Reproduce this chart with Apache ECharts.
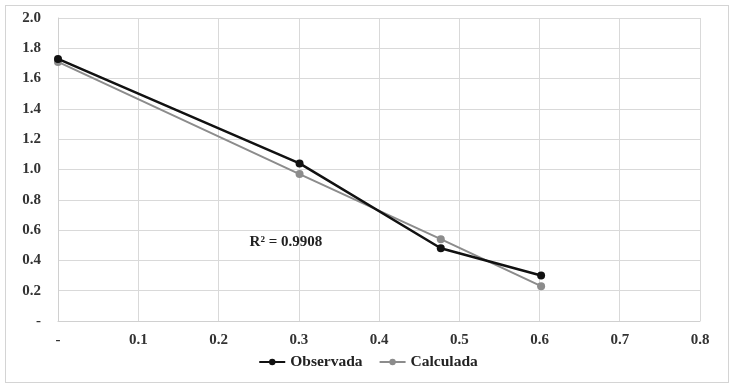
<!DOCTYPE html>
<html>
<head>
<meta charset="utf-8">
<script src="https://cdn.jsdelivr.net/npm/echarts@6/dist/echarts.min.js"></script>
<style>
html, body { margin: 0; padding: 0; background: #fff; }
#main { width: 736px; height: 387px; }
.frame { position: absolute; left: 5px; top: 5px; width: 724px; height: 378px; border: 1px solid #d4d4d4; box-sizing: border-box; pointer-events: none; }
</style>
</head>
<body>
<div id="main"></div>
<div class="frame"></div>
<script>
// log10 de los valores de x
var xVals = [0, 0.301, 0.477, 0.602];
var observada = [1.73, 1.04, 0.48, 0.30];
var calculada = [1.71, 0.97, 0.54, 0.23];
var r2Label = 'R² = 0.9908';
var r2Pos = [0.284, 0.52];

var chart = echarts.init(document.getElementById('main'));
var font = 'Liberation Serif';

function pairs(ys) {
    return xVals.map(function (x, i) { return [x, ys[i]]; });
}

var option = {
    animation: false,
    textStyle: { fontFamily: font },
    grid: { left: 58, right: 36, top: 18, bottom: 66 },
    legend: {
        bottom: 12,
        left: 'center',
        itemWidth: 26,
        itemHeight: 8,
        itemGap: 16,
        textStyle: { fontFamily: font, fontWeight: 'bold', fontSize: 15.5, color: '#222' },
        data: ['Observada', 'Calculada']
    },
    xAxis: {
        type: 'value',
        min: 0,
        max: 0.8,
        interval: 0.1,
        axisLine: { show: true, lineStyle: { color: '#d0d0d0' } },
        axisTick: { show: false },
        splitLine: { show: true, lineStyle: { color: '#d9d9d9' } },
        axisLabel: {
            margin: 12,
            color: '#333',
            fontFamily: font,
            fontWeight: 'bold',
            fontSize: 15,
            formatter: function (v) { return v === 0 ? '-' : v.toFixed(1); }
        }
    },
    yAxis: {
        type: 'value',
        min: 0,
        max: 2,
        interval: 0.2,
        axisLine: { show: true, lineStyle: { color: '#d0d0d0' } },
        axisTick: { show: false },
        splitLine: { show: true, lineStyle: { color: '#d9d9d9' } },
        axisLabel: {
            margin: 17,
            color: '#333',
            fontFamily: font,
            fontWeight: 'bold',
            fontSize: 15,
            formatter: function (v) { return v === 0 ? '-' : v.toFixed(1); }
        }
    },
    series: [{
        name: 'Calculada',
        type: 'line',
        data: pairs(calculada),
        symbol: 'circle',
        symbolSize: 8,
        lineStyle: { color: '#8c8c8c', width: 2 },
        itemStyle: { color: '#8c8c8c' },
        z: 2
    }, {
        name: 'Observada',
        type: 'line',
        data: pairs(observada),
        symbol: 'circle',
        symbolSize: 8,
        lineStyle: { color: '#111', width: 2.5 },
        itemStyle: { color: '#111' },
        z: 3,
        markPoint: {
            silent: true,
            symbol: 'circle',
            symbolSize: 0,
            data: [{ coord: r2Pos }],
            label: {
                show: true,
                position: 'inside',
                formatter: r2Label,
                color: '#222',
                fontFamily: font,
                fontWeight: 'bold',
                fontSize: 15
            }
        }
    }]
};
chart.setOption(option);
</script>
</body>
</html>
